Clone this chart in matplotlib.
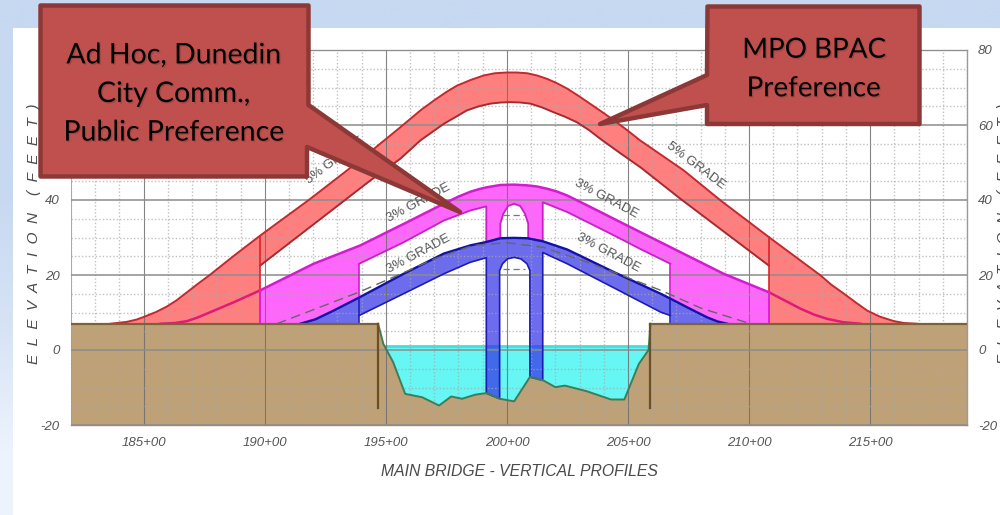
import numpy as np
import matplotlib
matplotlib.use('Agg')
import matplotlib.pyplot as plt
import matplotlib.patheffects as pe
from matplotlib.ticker import MultipleLocator

# stations are in hundreds of feet (185 = 185+00), elevations in feet
station_ticks = [185, 190, 195, 200, 205, 210, 215]
station_labels = ['185+00', '190+00', '195+00', '200+00', '205+00', '210+00', '215+00']
elev_ticks = [-20, 0, 20, 40, 60, 80]

ground_x = [182, 194.68, 194.9, 195.3, 195.8, 196.5, 197.2, 197.7, 198.15, 198.7, 199.15, 199.7, 200.3,
            200.95, 201.5, 202, 202.4, 203.3, 204.3, 204.85, 205.45, 205.85, 205.93, 219]
ground_y = [7, 7, 1.6, -3.2, -11.7, -12.6, -14.8, -12.4, -13, -11.9, -11.5, -13, -13.7,
            -7.2, -8.1, -9.9, -9.5, -11, -13.2, -13.2, -3.7, 0, 7, 7]
water_x = [194.9, 205.85]
water_level = 1.2

# 5% grade alternative
red_top_x = [183.62, 184.3, 184.7, 185, 185.5, 185.96, 186.35, 186.79, 187.25, 187.75, 188.7, 189.81, 191.88, 193.4,
             194.5, 195.6, 196.45, 196.98, 197.5, 197.94, 198.5, 199.04, 199.5, 200, 200.4, 200.84, 201.25, 201.66,
             202.05, 202.49, 202.95, 203.45, 203.9, 204.41, 204.95, 205.5, 207.3, 208.82, 210.82, 212.95, 213.4,
             213.92, 214.4, 214.88, 215.4, 215.98, 216.4, 216.95]
red_top_y = [7, 7.5, 8.1, 8.8, 10.1, 11.6, 13.2, 15.4, 17.7, 20.1, 25, 30.5, 40.3, 47.9,
             53.6, 59.4, 64, 66.5, 68.8, 70.5, 72, 73.2, 73.8, 74, 74, 73.8, 73.2, 72.3,
             71.2, 69.7, 67.8, 65.6, 63.6, 61.3, 58.7, 55.9, 47.9, 39.9, 30.1, 19.9, 17.4,
             15, 12.7, 10.5, 8.9, 7.7, 7.2, 7]
red_bot_x = [189.81, 194.36, 195.6, 196.43, 197.39, 197.9, 198.35, 198.85, 199.32, 199.75, 200.15, 200.55, 200.97,
             201.45, 201.93, 202.4, 202.9, 203.4, 203.86, 204.7, 205.52, 207.17, 210.82]
red_bot_y = [22.5, 45.2, 51, 55.9, 60.3, 62.2, 63.9, 65, 65.7, 66, 66.1, 66, 65.7,
             64.7, 63.4, 62.2, 60.7, 58.6, 56.3, 52.4, 48.7, 40.3, 22.5]

# 3% grade, upper alternative
mag_top_x = [185.7, 186.3, 186.79, 187.2, 187.61, 188.71, 189.81, 192.02, 193.95, 195.73, 197.39, 198, 198.49, 198.85,
             199.18, 199.73, 200.3, 200.84, 201.25, 201.66, 202.05, 202.49, 203.4, 204.41, 205.52, 206.76, 208.96,
             210.82, 212.13, 212.7, 213.23, 213.9, 214.6]
mag_top_y = [7, 7.2, 7.7, 8.6, 9.7, 12.7, 15.9, 23, 27.9, 33.6, 39, 40.9, 42.2, 42.9,
             43.4, 44, 44.1, 43.9, 43.6, 43, 42.3, 41.2, 38.3, 35, 31.4, 27.4, 20.3,
             15.4, 11, 9.4, 8.3, 7.4, 7]
mag_bot_left_x = [193.9, 195.73, 197.39, 198.49, 199.15]
mag_bot_left_y = [23, 28.7, 34.5, 37.2, 38.3]
mag_arch_x = [199.15, 199.15, 199.73, 199.73, 199.85, 200.05, 200.3, 200.55, 200.75, 200.88, 200.88, 201.48, 201.48]
mag_arch_y = [38.3, 28.8, 29.8, 33.7, 36.3, 38.4, 39, 38.4, 36.3, 33.7, 29.8, 29, 39.4]
mag_bot_right_x = [201.48, 202.49, 204.41, 205.52, 206.75]
mag_bot_right_y = [39.4, 36.8, 30.6, 26.9, 23]

# 3% grade, lower alternative
blue_top_x = [191.47, 192.1, 192.84, 193.9, 195.73, 197.39, 198.49, 199.15, 199.73, 200.3, 200.84, 201.48, 202.49,
              204.41, 206.35, 206.75, 207.5, 208.27, 208.7, 209.1]
blue_top_y = [7, 8.2, 10.5, 14, 20.3, 25.7, 27.9, 28.8, 29.8, 29.9, 29.8, 29, 26.8,
              20.8, 15, 13.7, 11.2, 8.7, 7.6, 7]
blue_bot_left_x = [193.9, 195.73, 197.39, 198.49, 199.15]
blue_bot_left_y = [9.2, 15, 20.3, 23.4, 24.6]
blue_arch_x = [199.15, 199.15, 199.7, 199.7, 199.82, 200.02, 200.3, 200.58, 200.83, 200.95, 200.95, 201.48, 201.48]
blue_arch_y = [24.6, -11.5, -13, 21.2, 23, 24.3, 24.7, 24.3, 23, 21.2, -7.2, -8.1, 26]
blue_bot_right_x = [201.48, 202.49, 204.41, 206.35, 206.75]
blue_bot_right_y = [26, 23, 16.6, 10.1, 9.2]

# existing profile, dashed
exist_x = [190.5, 193.88, 195.73, 197, 198.6, 200, 201.5, 203.5, 206.4, 208, 210.06]
exist_y = [7, 15.4, 20.6, 24.3, 27.9, 28.6, 27.4, 23, 15.8, 11.2, 7]

grade_labels = ['5% GRADE', '5% GRADE', '3% GRADE', '3% GRADE', '3% GRADE', '3% GRADE']
grade_x = [192.9, 207.8, 196.35, 204.1, 196.35, 204.2]
grade_y = [50.5, 49.2, 39.1, 40.4, 25.5, 26]
grade_rot = [37, -37, 28, -28, 28, -28]

fig = plt.figure(figsize=(10, 5.15), dpi=100)

# slide background
bg = fig.add_axes([0, 0, 1, 1], zorder=0)
bg.axis('off')
grad = np.array([[198, 217, 241], [198, 217, 241], [214, 227, 245], [236, 243, 252]]) / 255
bg.imshow(grad[:, None, :], extent=[0, 1000, 515, 0], aspect='auto', interpolation='bilinear')
bg.fill([13, 1000, 1000, 13], [28, 28, 515, 515], color='white', lw=0)
bg.set_xlim(0, 1000)
bg.set_ylim(515, 0)

ax = fig.add_axes([71 / 1000, 1 - 425 / 515, 896 / 1000, 375 / 515], zorder=1)
ax.patch.set_alpha(0)
ax.set_xlim(182, 219)
ax.set_ylim(-20, 80)

ax.fill_between(water_x, -20, water_level, color='#66f6f4', lw=0, zorder=1)
ax.plot(water_x, [water_level, water_level], color='#45dedd', lw=2, zorder=1.1)

red_x = red_top_x + [210.82] + red_bot_x[::-1] + [189.81]
red_y = red_top_y + [7] + red_bot_y[::-1] + [7]
ax.fill(red_x, red_y, color='#ff7f7f', lw=0, zorder=1.2)
ax.plot(red_top_x, red_top_y, color='#c22a30', lw=1.4, zorder=3)
ax.plot(red_bot_x, red_bot_y, color='#a82a30', lw=1.4, zorder=3)
ax.plot([189.81, 189.81], [7, 30.5], color='#d8262c', lw=1.2, zorder=3)
ax.plot([210.82, 210.82], [7, 30.1], color='#d8262c', lw=1.2, zorder=3)

# magenta fill stops on the blue top line at the approaches
blue_left = [(x, y) for x, y in zip(blue_top_x, blue_top_y) if x <= 193.9]
blue_right = [(x, y) for x, y in zip(blue_top_x, blue_top_y) if x >= 206.75]
mag_mid = [(x, y) for x, y in zip(mag_top_x, mag_top_y) if 189.81 <= x <= 210.82]
mag_lower_x = mag_bot_left_x + mag_arch_x + mag_bot_right_x
mag_lower_y = mag_bot_left_y + mag_arch_y + mag_bot_right_y
mag_poly = (mag_mid + [(210.82, 7)] + blue_right[::-1] + list(zip(mag_lower_x, mag_lower_y))[::-1]
            + blue_left[::-1] + [(189.81, 7)])
ax.fill([p[0] for p in mag_poly], [p[1] for p in mag_poly], color='#ff66fb', lw=0, zorder=1.3)
ax.plot([p[0] for p in mag_mid], [p[1] for p in mag_mid], color='#d41ccf', lw=1.8, zorder=3.1)
n_left = mag_top_x.index(189.81)
n_right = mag_top_x.index(210.82)
ax.plot(mag_top_x[:n_left + 1], mag_top_y[:n_left + 1], color='#e01a78', lw=1.8, zorder=3.1)
ax.plot(mag_top_x[n_right:], mag_top_y[n_right:], color='#e01a78', lw=1.8, zorder=3.1)
ax.plot(mag_lower_x, mag_lower_y, color='#c91fc6', lw=1.3, zorder=3.1)
ax.plot([193.9, 193.9], [14, 23], color='#d41ccf', lw=1.2, zorder=3.1)
ax.plot([206.75, 206.75], [13.7, 23], color='#d41ccf', lw=1.2, zorder=3.1)
ax.plot([189.81, 189.81], [7, 15.9], color='#e020e0', lw=1.4, zorder=3.1)
ax.plot([210.82, 210.82], [7, 15.4], color='#e020e0', lw=1.4, zorder=3.1)

blue_lower_x = blue_bot_left_x + blue_arch_x + blue_bot_right_x
blue_lower_y = blue_bot_left_y + blue_arch_y + blue_bot_right_y
blue_x = blue_top_x + [206.75] + blue_lower_x[::-1] + [193.9]
blue_y = blue_top_y + [7] + blue_lower_y[::-1] + [7]
ax.fill(blue_x, blue_y, color='#3333e6', alpha=0.72, lw=0, zorder=1.4)
ax.plot(blue_top_x, blue_top_y, color='#1212a8', lw=1.7, zorder=3.2)
ax.plot(blue_lower_x, blue_lower_y, color='#1c1cb4', lw=1.2, zorder=3.2)
ax.plot([193.9, 193.9], [7, 14], color='#1c1cb4', lw=1.1, zorder=3.2)
ax.plot([206.75, 206.75], [7, 13.7], color='#1c1cb4', lw=1.1, zorder=3.2)

ax.plot(exist_x, exist_y, color='#666666', lw=1, dashes=(7, 4), zorder=3.3)
ax.plot([199.85, 200.75], [35.9, 35.9], color='#777777', lw=0.9, dashes=(5, 3), zorder=3.3)
ax.plot([199.85, 200.75], [21.7, 21.7], color='#777777', lw=0.9, dashes=(5, 3), zorder=3.3)

ax.fill(ground_x + [219, 182], ground_y + [-20, -20], color='#bfa177', lw=0, zorder=2)
ax.plot(ground_x[:2], ground_y[:2], color='#7b6238', lw=1.6, zorder=3.4)
ax.plot(ground_x[-2:], ground_y[-2:], color='#7b6238', lw=1.6, zorder=3.4)
ax.plot(ground_x[1:-1], ground_y[1:-1], color='#3f7d58', lw=1.4, zorder=3.4)
ax.plot([194.68, 194.68], [7, -15.5], color='#6e4f20', lw=1.6, zorder=3.4)
ax.plot([205.93, 205.93], [7, -15.5], color='#6e4f20', lw=1.6, zorder=3.4)

# grids run over the fills
ax.set_axisbelow(False)
ax.xaxis.set_minor_locator(MultipleLocator(1))
ax.yaxis.set_minor_locator(MultipleLocator(5))
ax.grid(which='minor', color='#a8a8a8', lw=1.0, ls=(0, (1, 1.5)), alpha=0.7)
ax.grid(which='major', axis='y', color='#8c8c8c', lw=1.3, alpha=0.85)
ax.grid(which='major', axis='x', color='#6f6f6f', lw=0.8, alpha=0.85)
for side in ax.spines:
    ax.spines[side].set_color('#9a9a9a')
    ax.spines[side].set_linewidth(1.0)
ax.spines['left'].set_linewidth(0.6)
ax.spines['bottom'].set_color('#a08c68')

tick_font = dict(family='Liberation Sans', style='italic', size=9.5, color='#555555')
ax.set_xticks(station_ticks)
ax.set_xticklabels(station_labels, **tick_font)
ax.set_yticks(elev_ticks)
ax.set_yticklabels([str(v) for v in elev_ticks], **tick_font)
ax.tick_params(which='both', length=0)
ax.tick_params(axis='y', pad=8, labelright=True)
ax.tick_params(axis='x', pad=9)
for t in ax.yaxis.get_major_ticks():
    t.label2.set_fontfamily('Liberation Sans')
    t.label2.set_fontstyle('italic')
    t.label2.set_fontsize(9.5)
    t.label2.set_color('#555555')

for lab, gx, gy, rot in zip(grade_labels, grade_x, grade_y, grade_rot):
    ax.text(gx, gy, lab, rotation=rot, rotation_mode='anchor', ha='center', va='center',
            family='Liberation Sans', size=9.5, color='#555555', zorder=3.5)

# page furniture and callouts, in pixels
top = fig.add_axes([0, 0, 1, 1], zorder=2)
top.patch.set_alpha(0)
top.axis('off')
top.set_xlim(0, 1000)
top.set_ylim(515, 0)

axis_font = dict(family='Liberation Sans', style='italic', color='#4a4a4a')
top.text(519, 472, 'MAIN BRIDGE - VERTICAL PROFILES', ha='center', va='center', size=11.3, **axis_font)
elev_label = 'E  L  E  V  A  T  I  O  N    (  F  E  E  T  )'
top.text(34, 234, elev_label, rotation=90, ha='center', va='center', size=11, **axis_font)
top.text(997, 234, elev_label, rotation=90, ha='left', va='center', size=11, **axis_font)

call_fill = '#c0504d'
call_edge = '#8c3836'
box_a_x = [40.5, 308.5, 308.5, 460, 307, 307, 40.5]
box_a_y = [5.5, 5.5, 105, 212, 147, 176.5, 176.5]
box_b_x = [707.5, 919.5, 919.5, 707, 707, 600, 707]
box_b_y = [6.5, 6.5, 124, 124, 105, 124, 75]
top.fill(box_a_x, box_a_y, facecolor=call_fill, edgecolor=call_edge, lw=3.2, joinstyle='round')
top.fill(box_b_x, box_b_y, facecolor=call_fill, edgecolor=call_edge, lw=3.2, joinstyle='round')

call_font = dict(family='Lato', size=20.5, color='black', ha='center', va='center', linespacing=1.6,
                 path_effects=[pe.SimplePatchShadow(offset=(1, -1), shadow_rgbFace='#6a3230', alpha=0.3), pe.Normal()])
top.text(174, 94, 'Ad Hoc, Dunedin\nCity Comm.,\nPublic Preference', **call_font)
top.text(814, 69, 'MPO BPAC\nPreference', size=20, **{k: v for k, v in call_font.items() if k != 'size'})

fig.savefig('out.png', dpi=100)
